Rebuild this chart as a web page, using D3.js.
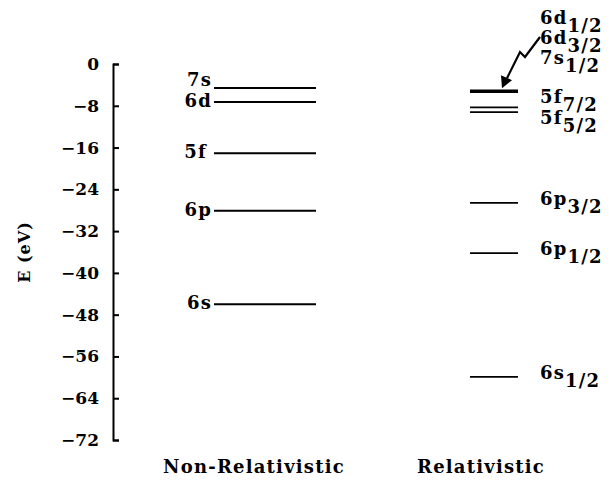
<!DOCTYPE html>
<html><head><meta charset="utf-8">
<script src="https://cdn.jsdelivr.net/npm/d3@7"></script>
<style>body{margin:0;background:#fff}svg{display:block}text{font-family:"DejaVu Serif",serif;font-weight:bold;fill:#000}</style>
</head><body><svg id="c" width="613" height="482"></svg>
<script>
// ---- data ----
const yTicks = [0,-8,-16,-24,-32,-40,-48,-56,-64,-72];
const nonRelLabels = ["7s","6d","5f","6p","6s"];
const nonRelEnergy = [-4.6,-7.3,-17.1,-28.1,-46.0];
const relMain = ["6d","5f","5f","6p","6p","6s"];
const relSub = ["1/2","7/2","5/2","3/2","1/2","1/2"];
const relEnergy = [-5.2,-8.3,-9.2,-26.6,-36.2,-59.9];
const groupLabelsMain = ["6d","6d","7s"];
const groupLabelsSub = ["1/2","3/2","1/2"];
const columns = ["Non-Relativistic","Relativistic"];

// ---- layout ----
const svg = d3.select("#c");
const y = d3.scaleLinear().domain([0,-72]).range([64,440]);
const fs = 18, ls = 1.2;
svg.append("g").attr("transform","translate(113,0)")
  .call(d3.axisLeft(y).tickValues(yTicks).tickSizeInner(-6).tickSizeOuter(-6).tickPadding(14)
     .tickFormat(d => d===0 ? "0" : "\u2212"+Math.abs(d)))
  .call(g=>{g.selectAll("path,line").attr("stroke","#000").attr("stroke-width",2);
            g.selectAll("text").attr("font-size",17).attr("font-family","DejaVu Serif").attr("font-weight","bold").attr("fill","#000");});

svg.append("text").attr("transform","translate(30,"+y(-36)+") rotate(-90)")
  .attr("text-anchor","middle").attr("font-size",16).attr("letter-spacing",1).text("E (eV)");

// non-relativistic
const nx0 = 214, nx1 = 316;
nonRelEnergy.forEach((e,i)=>{
  svg.append("line").attr("x1",nx0).attr("x2",nx1).attr("y1",y(e)).attr("y2",y(e))
    .attr("stroke","#000").attr("stroke-width",2);
  svg.append("text").attr("x", nonRelLabels[i]==="5f"?207:212).attr("y",y(e)+ (i===0?-2:5))
    .attr("text-anchor","end").attr("font-size",fs).attr("letter-spacing",ls).text(nonRelLabels[i]);
});

// relativistic
const rx0 = 470, rx1 = 518, lx = 540;
relEnergy.forEach((e,i)=>{
  svg.append("line").attr("x1",rx0).attr("x2",rx1).attr("y1",y(e)).attr("y2",y(e))
    .attr("stroke","#000").attr("stroke-width", i===0?3.5:1.8);
});
function subLabel(x,yy,m,s){
  const t = svg.append("text").attr("x",x).attr("y",yy).attr("font-size",fs).attr("letter-spacing",ls);
  t.append("tspan").text(m);
  t.append("tspan").attr("dy",8).text(s);
}
// group labels for thick line (stacked above)
[24,44,64].forEach((yy,i)=>subLabel(lx,yy,groupLabelsMain[i],groupLabelsSub[i]));
// other relativistic labels
const relLabelY = [null, 103, 124, null, null, null];
relEnergy.forEach((e,i)=>{
  if(i===0) return;
  const yy = relLabelY[i]!==null ? relLabelY[i] : y(e)+2;
  subLabel(lx,yy,relMain[i],relSub[i]);
});

// zigzag arrow
const tip = [502, y(relEnergy[0])-3];
svg.append("path").attr("d",`M540,37 L525,57 L520,52 L${tip[0]+5},${tip[1]-10}`)
  .attr("fill","none").attr("stroke","#000").attr("stroke-width",2.2);
svg.append("path").attr("d",`M${tip[0]},${tip[1]} L${tip[0]-1},${tip[1]-13} L${tip[0]+10},${tip[1]-8} Z`)
  .attr("fill","#000");

// column labels
svg.append("text").attr("x",254).attr("y",473).attr("text-anchor","middle").attr("font-size",fs).attr("letter-spacing",ls).text(columns[0]);
svg.append("text").attr("x",481).attr("y",473).attr("text-anchor","middle").attr("font-size",fs).attr("letter-spacing",ls).text(columns[1]);
</script></body></html>
